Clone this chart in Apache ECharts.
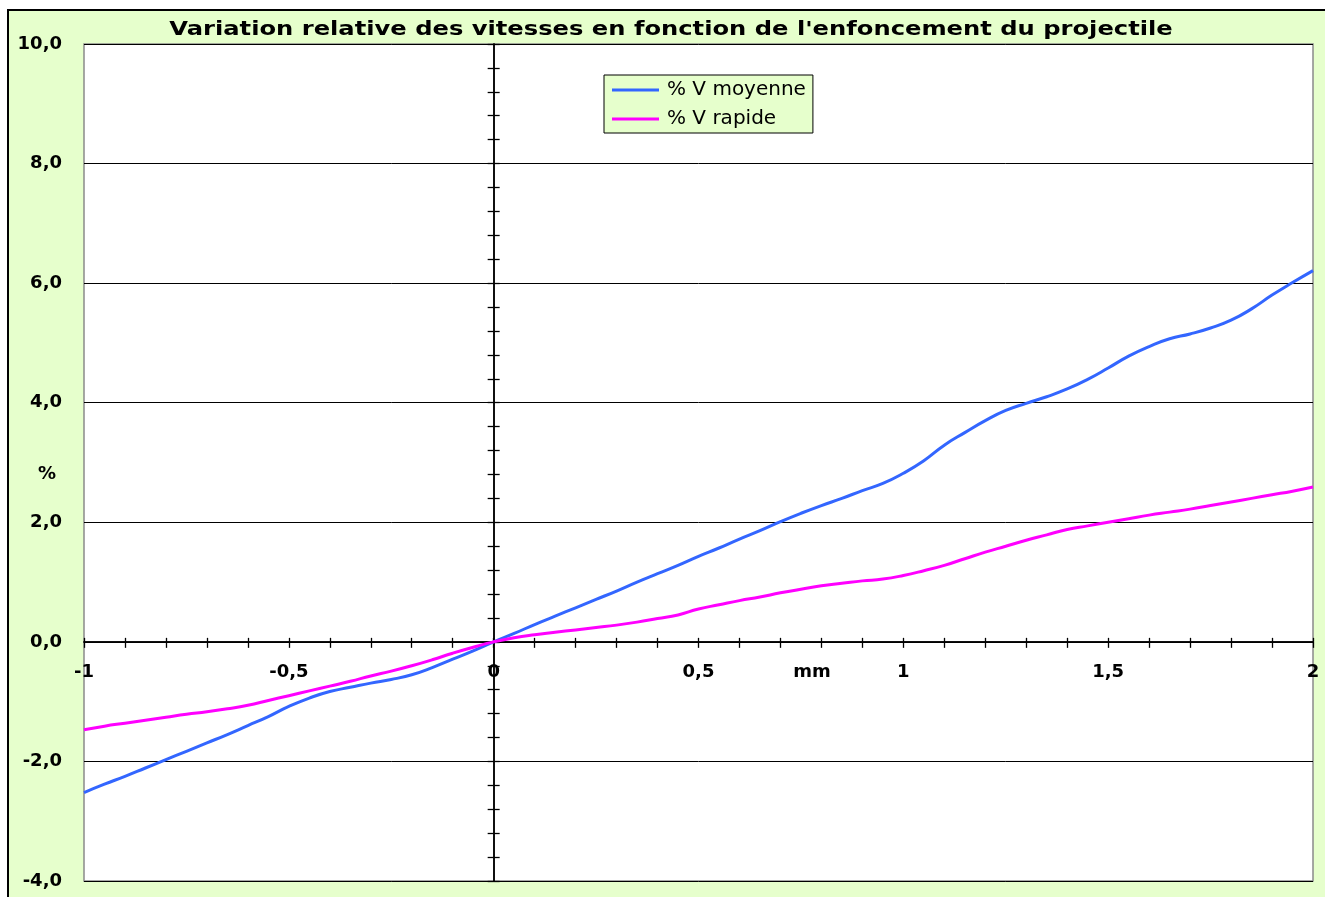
<!DOCTYPE html>
<html>
<head>
<meta charset="utf-8">
<script src="https://cdn.jsdelivr.net/npm/echarts@6/dist/echarts.min.js"></script>
<style>
  html, body { margin: 0; padding: 0; background: #fff; overflow: hidden; }
  #wrap { position: relative; width: 1325px; height: 897px; overflow: hidden; }
  #frame { position: absolute; left: 7px; top: 9px; width: 1400px; height: 960px;
           background: #E6FFCC; border-left: 2px solid #000; border-top: 2px solid #000; }
  #chart { position: absolute; left: 0; top: 0; width: 1325px; height: 897px; }
</style>
</head>
<body>
<div id="wrap">
  <div id="frame"></div>
  <div id="chart"></div>
</div>
<script>
// enfoncement du projectile (mm)
var depth = [-1, -0.95, -0.9, -0.85, -0.8, -0.75, -0.7, -0.65, -0.6, -0.55,
  -0.5, -0.45, -0.4, -0.35, -0.3, -0.25, -0.2, -0.15, -0.1, -0.05,
  0, 0.05, 0.1, 0.15, 0.2, 0.25, 0.3, 0.35, 0.4, 0.45,
  0.5, 0.55, 0.6, 0.65, 0.7, 0.75, 0.8, 0.85, 0.9, 0.95,
  1, 1.05, 1.1, 1.15, 1.2, 1.25, 1.3, 1.35, 1.4, 1.45,
  1.5, 1.55, 1.6, 1.65, 1.7, 1.75, 1.8, 1.85, 1.9, 1.95, 2];
// % V moyenne
var vMoyenne = [-2.52, -2.38, -2.25, -2.11, -1.97, -1.83, -1.69, -1.55, -1.40, -1.25,
  -1.08, -0.94, -0.83, -0.76, -0.69, -0.63, -0.55, -0.43, -0.29, -0.15,
  0, 0.14, 0.29, 0.43, 0.57, 0.71, 0.85, 1.00, 1.14, 1.28,
  1.43, 1.57, 1.72, 1.86, 2.01, 2.15, 2.28, 2.40, 2.53, 2.65,
  2.82, 3.03, 3.29, 3.50, 3.70, 3.87, 3.99, 4.10, 4.23, 4.39,
  4.58, 4.78, 4.94, 5.07, 5.15, 5.25, 5.38, 5.57, 5.80, 6.01, 6.21];
// % V rapide
var vRapide = [-1.47, -1.41, -1.36, -1.31, -1.26, -1.21, -1.17, -1.12, -1.06, -0.98,
  -0.90, -0.82, -0.74, -0.66, -0.57, -0.49, -0.40, -0.30, -0.19, -0.09,
  0, 0.07, 0.12, 0.16, 0.20, 0.24, 0.28, 0.33, 0.39, 0.45,
  0.55, 0.62, 0.69, 0.75, 0.82, 0.88, 0.94, 0.98, 1.02, 1.05,
  1.11, 1.19, 1.28, 1.39, 1.50, 1.60, 1.70, 1.79, 1.88, 1.94,
  2.00, 2.06, 2.12, 2.17, 2.22, 2.28, 2.34, 2.40, 2.46, 2.52, 2.59];
var seriesNames = ['% V moyenne', '% V rapide'];
var seriesColors = ['#3366FF', '#FF00FF'];
var chartTitle = "Variation relative des vitesses en fonction de l'enfoncement du projectile";

var FONT = '"DejaVu Sans", "Liberation Sans", sans-serif';
var myChart = echarts.init(document.getElementById('chart'));

// plot box (px) : axes cross at x=0 / y=0, so the zero lines are shifted with offset
var gridL = 84, gridR = 12, gridT = 44, gridB = 16;
var plotW = 1325 - gridL - gridR, plotH = 897 - gridT - gridB;
var xMin = -1, xMax = 2, yMin = -4, yMax = 10;
var zeroFromLeft = (0 - xMin) / (xMax - xMin) * plotW;
var zeroFromBottom = (0 - yMin) / (yMax - yMin) * plotH;

function pairs(xs, ys) {
  var out = [];
  xs.forEach(function (x, i) { out.push([x, ys[i]]); });
  return out;
}
function frNum(v, digits) {
  var s = digits != null ? v.toFixed(digits) : String(v);
  return s.replace('.', ',');
}

var lineStyle0 = { color: '#000', width: 1.5 };
var tickStyle = { color: '#000', width: 1.3 };

var option = {
  backgroundColor: 'transparent',
  animation: false,
  textStyle: { fontFamily: FONT },
  grid: {
    left: gridL, right: gridR, top: gridT, bottom: gridB,
    outerBoundsMode: 'none', containLabel: false,
    show: true, backgroundColor: '#fff', borderColor: '#8a8a8a', borderWidth: 1.5
  },
  legend: {
    left: 604, top: 75, orient: 'vertical',
    backgroundColor: '#E6FFCC', borderColor: '#000', borderWidth: 1,
    padding: [5, 7, 4, 8], itemGap: 9,
    icon: 'rect', itemWidth: 47, itemHeight: 3,
    textStyle: { fontFamily: FONT, fontSize: 20, color: '#000', padding: [0, 0, 0, 3] },
    data: seriesNames
  },
  xAxis: [{
    // lower half of the x axis at y = 0, with the labels
    type: 'value', min: xMin, max: xMax, interval: 0.1, position: 'bottom', offset: -zeroFromBottom,
    axisLine: { show: true, onZero: false, lineStyle: lineStyle0 },
    axisTick: { show: true, length: 6, lineStyle: tickStyle },
    splitLine: { show: false },
    axisLabel: {
      margin: 21, color: '#000', fontSize: 18, fontWeight: 'bold', fontFamily: FONT,
      showMinLabel: true, showMaxLabel: true, hideOverlap: false,
      formatter: function (v) {
        return Math.abs(v * 2 - Math.round(v * 2)) < 1e-6 ? frNum(Math.round(v * 2) / 2) : '';
      }
    }
  }, {
    // upper half of the crossing ticks
    type: 'value', min: xMin, max: xMax, interval: 0.1, position: 'top', offset: -(plotH - zeroFromBottom),
    axisLine: { show: true, onZero: false, lineStyle: lineStyle0 },
    axisTick: { show: true, length: 4, lineStyle: tickStyle },
    splitLine: { show: false }, axisLabel: { show: false }
  }],
  yAxis: [{
    type: 'value', min: yMin, max: yMax, interval: 2, position: 'left',
    axisLine: { show: false, onZero: false },
    axisTick: { show: false },
    splitLine: { show: true, lineStyle: { color: '#000', width: 1 } },
    axisLabel: {
      margin: 22, color: '#000', fontSize: 18, fontWeight: 'bold', fontFamily: FONT,
      formatter: function (v) { return frNum(v, 1); }
    }
  }, {
    type: 'value', min: yMin, max: yMax, interval: 0.4, position: 'left', offset: -zeroFromLeft,
    axisLine: { show: true, onZero: false, lineStyle: lineStyle0 },
    axisTick: { show: true, length: 6, lineStyle: tickStyle },
    splitLine: { show: false }, axisLabel: { show: false }
  }, {
    type: 'value', min: yMin, max: yMax, interval: 0.4, position: 'right', offset: -(plotW - zeroFromLeft),
    axisLine: { show: true, onZero: false, lineStyle: lineStyle0 },
    axisTick: { show: true, length: 6, lineStyle: tickStyle },
    splitLine: { show: false }, axisLabel: { show: false }
  }],
  graphic: [
    { type: 'text', x: 671, y: 30, scaleX: 1.21, silent: true,
      style: { text: chartTitle, fill: '#000', font: 'bold 20px ' + FONT, align: 'center', verticalAlign: 'middle' } },
    { type: 'text', x: 47, y: 474, silent: true,
      style: { text: '%', fill: '#000', font: 'bold 18px ' + FONT, align: 'center', verticalAlign: 'middle' } },
    { type: 'text', x: 812, y: 672, silent: true,
      style: { text: 'mm', fill: '#000', font: 'bold 18px ' + FONT, align: 'center', verticalAlign: 'middle' } }
  ],
  series: [{
    name: seriesNames[0], type: 'line', smooth: 0.5, showSymbol: false,
    color: seriesColors[0], lineStyle: { width: 3, color: seriesColors[0] },
    data: pairs(depth, vMoyenne)
  }, {
    name: seriesNames[1], type: 'line', smooth: 0.5, showSymbol: false,
    color: seriesColors[1], lineStyle: { width: 3, color: seriesColors[1] },
    data: pairs(depth, vRapide)
  }]
};
myChart.setOption(option);
</script>
</body>
</html>
